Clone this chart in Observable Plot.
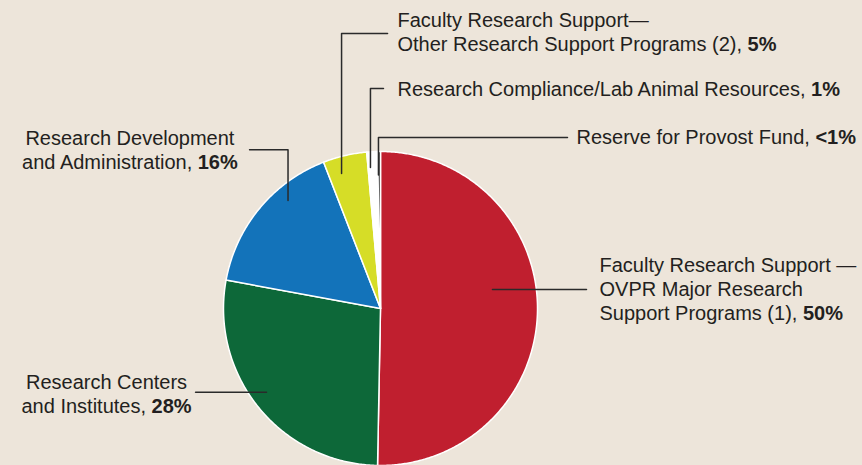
<!DOCTYPE html>
<html><head><meta charset="utf-8">
<script src="https://cdn.jsdelivr.net/npm/d3@7"></script>
<script src="https://cdn.jsdelivr.net/npm/@observablehq/plot@0.6"></script>
<style>
html,body{margin:0;padding:0;background:#ede5da;}
#chart svg{display:block;}
</style></head><body><div id="chart"></div>
<script>
// ---- data ----
const categories = [
  "Faculty Research Support — OVPR Major Research Support Programs (1)",
  "Research Centers and Institutes",
  "Research Development and Administration",
  "Faculty Research Support — Other Research Support Programs (2)",
  "Research Compliance/Lab Animal Resources",
  "Reserve for Provost Fund"
];
const shares = [50.3, 27.6, 16.2, 4.5, 1.1, 0.3];
const shareLabels = ["50%", "28%", "16%", "5%", "1%", "<1%"];
const labelTexts = [
  "Faculty Research Support —\nOVPR Major Research\nSupport Programs (1), ",
  "Research Centers\nand Institutes, ",
  "Research Development\nand Administration, ",
  "Faculty Research Support—\nOther Research Support Programs (2), ",
  "Research Compliance/Lab Animal Resources, ",
  "Reserve for Provost Fund, "
];

// ---- styles ----
const sliceColors = ["#c01f2f", "#0d6839", "#1373ba", "#d6dd27", "#ffffff", "#353535"];
const inkColor = "#231f20";

// ---- annotation layout (in pie-radius units, origin at pie centre, y up) ----
const labelLayout = [
  {u: 1.395, v: 0.343, anchor: "start"},
  {u: -1.745, v: -0.402, anchor: "middle"},
  {u: -1.596, v: 1.148, anchor: "middle"},
  {u: 0.108, v: 1.904, anchor: "start"},
  {u: 0.108, v: 1.464, anchor: "start"},
  {u: 1.248, v: 1.159, anchor: "start"}
];
const leaderLayout = [
  [[0.713, 0.121], [1.312, 0.121]],
  [[-0.726, -0.533], [-1.178, -0.533]],
  [[-0.589, 0.688], [-0.589, 1.011], [-0.834, 1.011]],
  [[-0.248, 0.860], [-0.248, 1.752], [0.045, 1.752]],
  [[-0.064, 0.898], [-0.064, 1.401], [0.019, 1.401]],
  [[-0.013, 0.85], [-0.013, 1.089], [1.191, 1.089]]
];

// ---- build pie polygons from the values ----
const arcs = d3.pie().sort(null).value(d => d)(shares);
const slicePoints = [];
arcs.forEach((a, i) => {
  slicePoints.push({key: i, u: 0, v: 0, color: sliceColors[i]});
  const n = Math.max(2, Math.ceil((a.endAngle - a.startAngle) / (Math.PI / 360)));
  for (let k = 0; k <= n; k++) {
    const t = a.startAngle + (a.endAngle - a.startAngle) * k / n;
    slicePoints.push({key: i, u: Math.sin(t), v: Math.cos(t), color: sliceColors[i]});
  }
});

const leaderPoints = leaderLayout.flatMap((pts, i) => pts.map(([u, v]) => ({key: i, u, v})));
const labels = labelLayout.map((l, i) => ({...l, key: i, text: labelTexts[i] + "\u2016" + shareLabels[i]}));

const textOpts = {x: "u", y: "v", text: "text", lineAnchor: "top", lineHeight: 1.2, fontSize: 20, fill: inkColor};

const chart = Plot.plot({
  width: 862,
  height: 465,
  marginLeft: 223,
  marginRight: 325,
  marginTop: 151,
  marginBottom: 0,
  x: {domain: [-1, 1], axis: null},
  y: {domain: [-1, 1], axis: null},
  color: {type: "identity"},
  style: {background: "transparent", fontFamily: "'Liberation Sans', Arial, sans-serif", overflow: "visible"},
  marks: [
    Plot.line(slicePoints, {x: "u", y: "v", z: "key", fill: "color", stroke: "#ffffff", strokeWidth: 1.5, curve: "linear-closed", strokeLinejoin: "round"}),
    Plot.line(leaderPoints, {x: "u", y: "v", z: "key", stroke: "#2a2a2a", strokeWidth: 1.5}),
    Plot.text(labels.filter(d => d.anchor === "start"), {...textOpts, textAnchor: "start"}),
    Plot.text(labels.filter(d => d.anchor === "middle"), {...textOpts, textAnchor: "middle"})
  ]
});
document.getElementById("chart").appendChild(chart);

// bold the percentage part of each label
function boldify(node) {
  const s = node.textContent;
  const idx = s.indexOf("\u2016");
  if (idx < 0) return;
  node.textContent = s.slice(0, idx);
  const b = document.createElementNS("http://www.w3.org/2000/svg", "tspan");
  b.setAttribute("font-weight", "bold");
  b.textContent = s.slice(idx + 1);
  node.appendChild(b);
}
chart.querySelectorAll("text").forEach(t => {
  const spans = t.querySelectorAll("tspan");
  if (spans.length) spans.forEach(boldify); else boldify(t);
});
</script>
</body></html>
